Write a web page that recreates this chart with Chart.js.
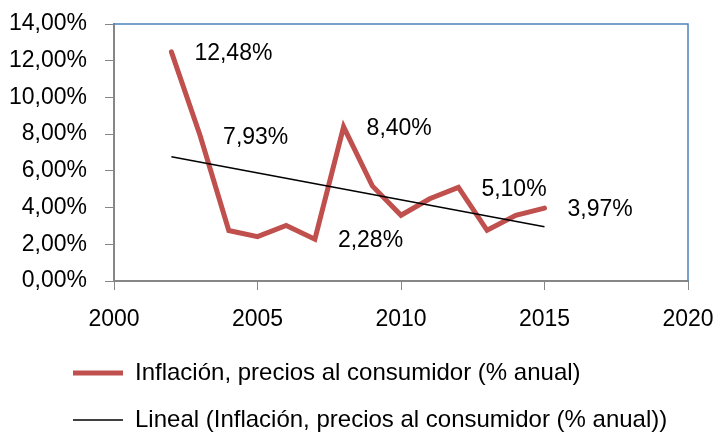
<!DOCTYPE html>
<html lang="es">
<head>
<meta charset="utf-8">
<title>Inflación, precios al consumidor (% anual)</title>
<script src="https://cdn.jsdelivr.net/npm/chart.js@4.4.1/dist/chart.umd.min.js"></script>
<style>
    html, body { margin: 0; padding: 0; background: #fff; }
    #contenedor { width: 719px; height: 432px; position: relative; }
</style>
</head>
<body>
<div id="contenedor"><canvas id="grafico-inflacion"></canvas></div>
<script>
// Datos: inflación anual y línea de tendencia lineal
const anios = [2002, 2003, 2004, 2005, 2006, 2007, 2008, 2009, 2010, 2011, 2012, 2013, 2014, 2015];
const inflacion = [12.48, 7.93, 2.75, 2.42, 3.03, 2.28, 8.40, 5.18, 3.58, 4.48, 5.10, 2.76, 3.58, 3.97];
const tendenciaAnios = [2002, 2015];
const tendenciaValores = [6.77, 2.96];
// índices de los puntos que llevan etiqueta de valor
const puntosConEtiqueta = [0, 1, 5, 6, 10, 13];
const nombreSerie = 'Inflación, precios al consumidor (% anual)';
const nombreTendencia = 'Lineal (Inflación, precios al consumidor (% anual))';

const fuente = 'Liberation Sans';
Chart.defaults.font.family = fuente;
Chart.defaults.font.size = 23;
Chart.defaults.color = '#000';

function formatoPct(v) {
    return v.toFixed(2).replace('.', ',') + '%';
}

// Etiquetas de valor a la derecha de algunos puntos
const etiquetasValor = {
    id: 'etiquetasValor',
    afterDatasetsDraw(chart) {
        const ctx = chart.ctx;
        const meta = chart.getDatasetMeta(0);
        ctx.save();
        ctx.font = '23px "' + fuente + '"';
        ctx.fillStyle = '#000';
        ctx.textAlign = 'left';
        ctx.textBaseline = 'middle';
        puntosConEtiqueta.forEach(i => {
            const p = meta.data[i];
            ctx.fillText(formatoPct(inflacion[i]), p.x + 23, p.y + 2);
        });
        ctx.restore();
    }
};

// Borde azul arriba y a la derecha del área del gráfico
const bordeArea = {
    id: 'bordeArea',
    beforeDatasetsDraw(chart) {
        const { ctx, chartArea: a } = chart;
        ctx.save();
        ctx.strokeStyle = '#4F81BD';
        ctx.lineWidth = 1.5;
        ctx.beginPath();
        ctx.moveTo(a.left, a.top);
        ctx.lineTo(a.right, a.top);
        ctx.lineTo(a.right, a.bottom);
        ctx.stroke();
        ctx.restore();
    }
};

// Leyenda alineada a la izquierda como en el original
const moverLeyenda = {
    id: 'moverLeyenda',
    afterLayout(chart) {
        chart.legend.left = 73 - 23;
    }
};

const ctx = document.getElementById('grafico-inflacion').getContext('2d');
new Chart(ctx, {
    type: 'line',
    data: {
        datasets: [
            {
                label: nombreSerie,
                data: anios.map((a, i) => ({ x: a, y: inflacion[i] })),
                borderColor: '#C0504D',
                backgroundColor: '#C0504D',
                borderWidth: 5,
                borderCapStyle: 'round',
                pointRadius: 0,
                tension: 0,
                order: 1
            },
            {
                label: nombreTendencia,
                data: tendenciaAnios.map((a, i) => ({ x: a, y: tendenciaValores[i] })),
                borderColor: '#000',
                backgroundColor: '#000',
                borderWidth: 1.5,
                pointRadius: 0,
                tension: 0,
                order: 0
            }
        ]
    },
    options: {
        responsive: true,
        maintainAspectRatio: false,
        animation: false,
        layout: { padding: { top: 24, right: 31, left: 0, bottom: 0 } },
        plugins: {
            legend: {
                position: 'bottom',
                align: 'start',
                maxHeight: 94,
                labels: {
                    usePointStyle: true,
                    pointStyle: 'line',
                    pointStyleWidth: 50,
                    padding: 23,
                    color: '#000',
                    font: { size: 24 },
                    sort: (a, b) => a.datasetIndex - b.datasetIndex
                }
            },
            tooltip: { enabled: false }
        },
        scales: {
            x: {
                type: 'linear',
                min: 2000,
                max: 2020,
                ticks: { stepSize: 5, padding: 16, callback: v => String(v) },
                grid: { drawOnChartArea: false, drawTicks: true, tickLength: 9, color: '#868686' },
                border: { color: '#868686', width: 2 },
                afterFit(scale) {
                    scale.height = 57;
                    scale.paddingLeft = 0;
                    scale.paddingRight = 0;
                }
            },
            y: {
                min: 0,
                max: 14,
                ticks: { stepSize: 2, padding: 18, callback: v => formatoPct(v) },
                grid: { drawOnChartArea: false, drawTicks: true, tickLength: 9, color: '#868686' },
                border: { color: '#868686', width: 2 },
                afterFit(scale) {
                    scale.width = 114;
                    scale.paddingTop = 0;
                    scale.paddingBottom = 0;
                }
            }
        }
    },
    plugins: [bordeArea, etiquetasValor, moverLeyenda]
});
</script>
</body>
</html>
